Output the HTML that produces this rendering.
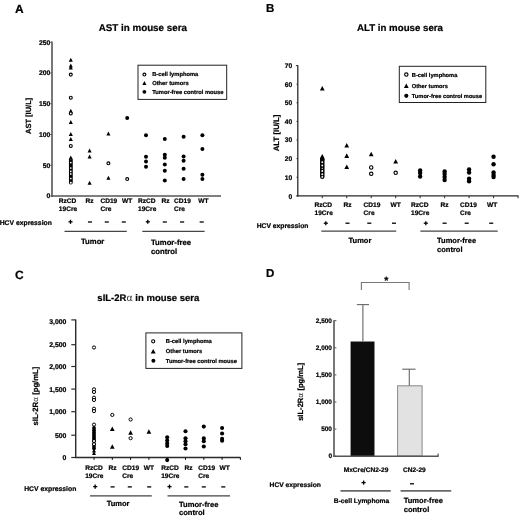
<!DOCTYPE html>
<html lang="en">
<head>
<meta charset="utf-8">
<title>AST, ALT and sIL-2R&alpha; in mouse sera</title>
<style>
html,body{margin:0;padding:0;background:#fff;}
svg{display:block;font-family:'Liberation Sans', sans-serif;fill:#000;}
text{stroke:#000;stroke-width:.22px;stroke-linejoin:round;}
</style>
</head>
<body>
<svg width="520" height="519" viewBox="0 0 520 519" text-rendering="geometricPrecision">
<defs><filter id="soft" x="0" y="0" width="520" height="519" filterUnits="userSpaceOnUse"><feGaussianBlur stdDeviation="0.38"/></filter></defs>
<rect x="0" y="0" width="520" height="519" fill="#fff"/>
<g filter="url(#soft)">
<text x="15.00" y="13.30" font-size="12" font-weight="bold" text-anchor="start">A</text>
<text x="142.80" y="30.90" font-size="9.8" font-weight="bold" text-anchor="middle">AST in mouse sera</text>
<line x1="52.00" y1="41.50" x2="52.00" y2="196.80" stroke="#555" stroke-width="1.6"/>
<line x1="51.20" y1="196.00" x2="221.00" y2="196.00" stroke="#555" stroke-width="1.5"/>
<line x1="50.20" y1="196.00" x2="52.00" y2="196.00" stroke="#555" stroke-width="1"/>
<text x="50.40" y="198.43" font-size="6.8" font-weight="bold" text-anchor="end">0</text>
<line x1="50.20" y1="165.25" x2="52.00" y2="165.25" stroke="#555" stroke-width="1"/>
<text x="50.40" y="167.68" font-size="6.8" font-weight="bold" text-anchor="end">50</text>
<line x1="50.20" y1="134.50" x2="52.00" y2="134.50" stroke="#555" stroke-width="1"/>
<text x="50.40" y="136.93" font-size="6.8" font-weight="bold" text-anchor="end">100</text>
<line x1="50.20" y1="103.75" x2="52.00" y2="103.75" stroke="#555" stroke-width="1"/>
<text x="50.40" y="106.18" font-size="6.8" font-weight="bold" text-anchor="end">150</text>
<line x1="50.20" y1="73.00" x2="52.00" y2="73.00" stroke="#555" stroke-width="1"/>
<text x="50.40" y="75.43" font-size="6.8" font-weight="bold" text-anchor="end">200</text>
<line x1="50.20" y1="42.25" x2="52.00" y2="42.25" stroke="#555" stroke-width="1"/>
<text x="50.40" y="44.68" font-size="6.8" font-weight="bold" text-anchor="end">250</text>
<text transform="translate(31.20,115.90) rotate(-90)" font-size="7.5" font-weight="bold" text-anchor="middle">AST [IU/L]</text>
<polygon points="70.80,57.70 72.85,61.70 68.75,61.70" fill="#000"/>
<polygon points="70.80,63.60 72.85,67.60 68.75,67.60" fill="#000"/>
<polygon points="70.80,65.40 72.85,69.40 68.75,69.40" fill="#000"/>
<polygon points="70.80,108.80 72.85,112.80 68.75,112.80" fill="#000"/>
<polygon points="70.80,119.90 72.85,123.90 68.75,123.90" fill="#000"/>
<polygon points="70.80,132.00 72.85,136.00 68.75,136.00" fill="#000"/>
<polygon points="70.80,137.10 72.85,141.10 68.75,141.10" fill="#000"/>
<circle cx="70.80" cy="74.60" r="1.45" fill="#fff" stroke="#000" stroke-width="1.15"/>
<circle cx="70.80" cy="97.70" r="1.45" fill="#fff" stroke="#000" stroke-width="1.15"/>
<circle cx="70.80" cy="113.40" r="1.45" fill="#fff" stroke="#000" stroke-width="1.15"/>
<circle cx="70.80" cy="145.90" r="1.45" fill="#fff" stroke="#000" stroke-width="1.15"/>
<polygon points="70.80,155.60 72.85,159.60 68.75,159.60" fill="#000"/>
<circle cx="70.80" cy="160.00" r="1.35" fill="none" stroke="#000" stroke-width="1.2"/>
<circle cx="70.80" cy="161.50" r="1.35" fill="none" stroke="#000" stroke-width="1.2"/>
<circle cx="70.80" cy="163.00" r="1.35" fill="none" stroke="#000" stroke-width="1.2"/>
<circle cx="70.80" cy="164.50" r="1.35" fill="none" stroke="#000" stroke-width="1.2"/>
<circle cx="70.80" cy="166.00" r="1.35" fill="none" stroke="#000" stroke-width="1.2"/>
<circle cx="70.80" cy="167.50" r="1.35" fill="none" stroke="#000" stroke-width="1.2"/>
<circle cx="70.80" cy="169.00" r="1.35" fill="none" stroke="#000" stroke-width="1.2"/>
<circle cx="70.80" cy="170.50" r="1.35" fill="none" stroke="#000" stroke-width="1.2"/>
<circle cx="70.80" cy="172.00" r="1.35" fill="none" stroke="#000" stroke-width="1.2"/>
<circle cx="70.80" cy="173.50" r="1.35" fill="none" stroke="#000" stroke-width="1.2"/>
<circle cx="70.80" cy="175.00" r="1.35" fill="none" stroke="#000" stroke-width="1.2"/>
<circle cx="70.80" cy="176.50" r="1.35" fill="none" stroke="#000" stroke-width="1.2"/>
<circle cx="70.80" cy="178.00" r="1.35" fill="none" stroke="#000" stroke-width="1.2"/>
<circle cx="70.80" cy="179.50" r="1.35" fill="none" stroke="#000" stroke-width="1.2"/>
<circle cx="70.80" cy="181.00" r="1.35" fill="none" stroke="#000" stroke-width="1.2"/>
<circle cx="70.80" cy="182.50" r="1.35" fill="none" stroke="#000" stroke-width="1.2"/>
<circle cx="70.80" cy="162.60" r="0.85" fill="#fff"/>
<circle cx="70.80" cy="168.00" r="0.85" fill="#fff"/>
<circle cx="70.80" cy="171.30" r="0.85" fill="#fff"/>
<circle cx="70.80" cy="173.90" r="0.85" fill="#fff"/>
<circle cx="70.80" cy="178.50" r="0.85" fill="#fff"/>
<circle cx="70.80" cy="182.70" r="1.0" fill="#fff"/>
<polygon points="89.60,148.50 91.65,152.50 87.55,152.50" fill="#000"/>
<polygon points="89.60,154.60 91.65,158.60 87.55,158.60" fill="#000"/>
<polygon points="89.60,180.70 91.65,184.70 87.55,184.70" fill="#000"/>
<polygon points="108.40,131.60 110.45,135.60 106.35,135.60" fill="#000"/>
<circle cx="108.40" cy="163.30" r="1.45" fill="#fff" stroke="#000" stroke-width="1.15"/>
<polygon points="108.40,175.80 110.45,179.80 106.35,179.80" fill="#000"/>
<circle cx="127.20" cy="118.00" r="2.0" fill="#000"/>
<circle cx="127.20" cy="179.00" r="1.45" fill="#fff" stroke="#000" stroke-width="1.15"/>
<circle cx="146.00" cy="135.25" r="2.0" fill="#000"/>
<circle cx="146.00" cy="156.75" r="2.0" fill="#000"/>
<circle cx="146.00" cy="161.50" r="2.0" fill="#000"/>
<circle cx="146.00" cy="166.75" r="2.0" fill="#000"/>
<circle cx="164.80" cy="139.00" r="2.0" fill="#000"/>
<circle cx="164.80" cy="154.75" r="2.0" fill="#000"/>
<circle cx="164.80" cy="157.75" r="2.0" fill="#000"/>
<circle cx="164.80" cy="164.50" r="2.0" fill="#000"/>
<circle cx="164.80" cy="170.75" r="2.0" fill="#000"/>
<circle cx="164.80" cy="180.50" r="2.0" fill="#000"/>
<circle cx="183.60" cy="136.75" r="2.0" fill="#000"/>
<circle cx="183.60" cy="156.50" r="2.0" fill="#000"/>
<circle cx="183.60" cy="160.75" r="2.0" fill="#000"/>
<circle cx="183.60" cy="168.75" r="2.0" fill="#000"/>
<circle cx="183.60" cy="179.00" r="2.0" fill="#000"/>
<circle cx="202.40" cy="135.25" r="2.0" fill="#000"/>
<circle cx="202.40" cy="149.00" r="2.0" fill="#000"/>
<circle cx="202.40" cy="174.75" r="2.0" fill="#000"/>
<circle cx="202.40" cy="179.00" r="2.0" fill="#000"/>
<rect x="138.0" y="65.2" width="88.7" height="34.2" fill="#fff" stroke="#222" stroke-width="1"/>
<circle cx="144.40" cy="74.50" r="1.45" fill="#fff" stroke="#000" stroke-width="1.15"/>
<polygon points="144.40,81.10 146.45,85.10 142.35,85.10" fill="#000"/>
<circle cx="144.40" cy="91.80" r="1.9" fill="#000"/>
<text x="152.20" y="75.97" font-size="5.78" font-weight="bold" text-anchor="start">B-cell lymphoma</text>
<text x="152.20" y="85.47" font-size="5.78" font-weight="bold" text-anchor="start">Other tumors</text>
<text x="152.20" y="93.77" font-size="5.78" font-weight="bold" text-anchor="start">Tumor-free control mouse</text>
<text x="58.80" y="203.16" font-size="6.6" font-weight="bold" text-anchor="start">RzCD</text>
<text x="58.80" y="211.16" font-size="6.6" font-weight="bold" text-anchor="start">19Cre</text>
<text x="85.40" y="203.16" font-size="6.6" font-weight="bold" text-anchor="start">Rz</text>
<text x="100.40" y="203.16" font-size="6.6" font-weight="bold" text-anchor="start">CD19</text>
<text x="100.40" y="211.16" font-size="6.6" font-weight="bold" text-anchor="start">Cre</text>
<text x="122.00" y="203.16" font-size="6.6" font-weight="bold" text-anchor="start">WT</text>
<text x="138.00" y="203.16" font-size="6.6" font-weight="bold" text-anchor="start">RzCD</text>
<text x="138.00" y="211.16" font-size="6.6" font-weight="bold" text-anchor="start">19Cre</text>
<text x="161.60" y="203.16" font-size="6.6" font-weight="bold" text-anchor="start">Rz</text>
<text x="174.00" y="203.16" font-size="6.6" font-weight="bold" text-anchor="start">CD19</text>
<text x="174.00" y="211.16" font-size="6.6" font-weight="bold" text-anchor="start">Cre</text>
<text x="198.20" y="203.16" font-size="6.6" font-weight="bold" text-anchor="start">WT</text>
<text x="-0.30" y="225.13" font-size="6.8" font-weight="bold" text-anchor="start">HCV expression</text>
<line x1="68.45" y1="221.80" x2="72.55" y2="221.80" stroke="#000" stroke-width="1.3"/>
<line x1="70.50" y1="219.75" x2="70.50" y2="223.85" stroke="#000" stroke-width="1.3"/>
<line x1="87.95" y1="222.00" x2="92.05" y2="222.00" stroke="#000" stroke-width="1.3"/>
<line x1="104.75" y1="222.00" x2="108.85" y2="222.00" stroke="#000" stroke-width="1.3"/>
<line x1="121.75" y1="222.00" x2="125.85" y2="222.00" stroke="#000" stroke-width="1.3"/>
<line x1="145.75" y1="221.80" x2="149.85" y2="221.80" stroke="#000" stroke-width="1.3"/>
<line x1="147.80" y1="219.75" x2="147.80" y2="223.85" stroke="#000" stroke-width="1.3"/>
<line x1="162.75" y1="222.00" x2="166.85" y2="222.00" stroke="#000" stroke-width="1.3"/>
<line x1="180.05" y1="222.00" x2="184.15" y2="222.00" stroke="#000" stroke-width="1.3"/>
<line x1="199.65" y1="222.00" x2="203.75" y2="222.00" stroke="#000" stroke-width="1.3"/>
<line x1="64.50" y1="231.30" x2="126.80" y2="231.30" stroke="#444" stroke-width="1.2"/>
<line x1="142.30" y1="231.30" x2="204.60" y2="231.30" stroke="#444" stroke-width="1.2"/>
<text x="81.00" y="244.16" font-size="7.7" font-weight="bold" text-anchor="start">Tumor</text>
<text x="151.00" y="244.66" font-size="7.7" font-weight="bold" text-anchor="start">Tumor-free</text>
<text x="151.00" y="253.86" font-size="7.7" font-weight="bold" text-anchor="start">control</text>
<text x="265.90" y="12.10" font-size="11.5" font-weight="bold" text-anchor="start">B</text>
<text x="400.00" y="30.80" font-size="9.7" font-weight="bold" text-anchor="middle">ALT in mouse sera</text>
<line x1="297.80" y1="65.20" x2="297.80" y2="196.50" stroke="#2a2a2a" stroke-width="1.3"/>
<line x1="297.20" y1="195.90" x2="518.50" y2="195.90" stroke="#2a2a2a" stroke-width="1.3"/>
<line x1="295.90" y1="195.90" x2="297.80" y2="195.90" stroke="#2a2a2a" stroke-width="1"/>
<text x="292.20" y="198.80" font-size="6.7" font-weight="bold" text-anchor="end">0</text>
<line x1="296.50" y1="177.28" x2="297.80" y2="177.28" stroke="#2a2a2a" stroke-width="1"/>
<text x="292.20" y="179.68" font-size="6.7" font-weight="bold" text-anchor="end">10</text>
<line x1="296.50" y1="158.66" x2="297.80" y2="158.66" stroke="#2a2a2a" stroke-width="1"/>
<text x="292.20" y="161.06" font-size="6.7" font-weight="bold" text-anchor="end">20</text>
<line x1="296.50" y1="140.04" x2="297.80" y2="140.04" stroke="#2a2a2a" stroke-width="1"/>
<text x="292.20" y="142.44" font-size="6.7" font-weight="bold" text-anchor="end">30</text>
<line x1="296.50" y1="121.42" x2="297.80" y2="121.42" stroke="#2a2a2a" stroke-width="1"/>
<text x="292.20" y="123.82" font-size="6.7" font-weight="bold" text-anchor="end">40</text>
<line x1="296.50" y1="102.80" x2="297.80" y2="102.80" stroke="#2a2a2a" stroke-width="1"/>
<text x="292.20" y="105.20" font-size="6.7" font-weight="bold" text-anchor="end">50</text>
<line x1="296.50" y1="84.18" x2="297.80" y2="84.18" stroke="#2a2a2a" stroke-width="1"/>
<text x="292.20" y="86.58" font-size="6.7" font-weight="bold" text-anchor="end">60</text>
<line x1="295.90" y1="65.56" x2="297.80" y2="65.56" stroke="#2a2a2a" stroke-width="1"/>
<text x="292.20" y="67.96" font-size="6.7" font-weight="bold" text-anchor="end">70</text>
<line x1="322.27" y1="195.90" x2="322.27" y2="198.20" stroke="#2a2a2a" stroke-width="1"/>
<line x1="346.74" y1="195.90" x2="346.74" y2="198.20" stroke="#2a2a2a" stroke-width="1"/>
<line x1="371.21" y1="195.90" x2="371.21" y2="198.20" stroke="#2a2a2a" stroke-width="1"/>
<line x1="395.68" y1="195.90" x2="395.68" y2="198.20" stroke="#2a2a2a" stroke-width="1"/>
<line x1="420.15" y1="195.90" x2="420.15" y2="198.20" stroke="#2a2a2a" stroke-width="1"/>
<line x1="444.62" y1="195.90" x2="444.62" y2="198.20" stroke="#2a2a2a" stroke-width="1"/>
<line x1="469.09" y1="195.90" x2="469.09" y2="198.20" stroke="#2a2a2a" stroke-width="1"/>
<line x1="493.56" y1="195.90" x2="493.56" y2="198.20" stroke="#2a2a2a" stroke-width="1"/>
<line x1="518.03" y1="195.90" x2="518.03" y2="198.20" stroke="#2a2a2a" stroke-width="1"/>
<text transform="translate(278.70,133.00) rotate(-90)" font-size="7.8" font-weight="bold" text-anchor="middle">ALT [IU/L]</text>
<polygon points="322.27,85.90 324.67,90.50 319.87,90.50" fill="#000"/>
<polygon points="322.27,153.90 324.67,158.50 319.87,158.50" fill="#000"/>
<polygon points="322.27,155.30 324.67,159.90 319.87,159.90" fill="#000"/>
<circle cx="322.27" cy="159.40" r="1.6" fill="none" stroke="#000" stroke-width="1.35"/>
<circle cx="322.27" cy="160.84" r="1.6" fill="none" stroke="#000" stroke-width="1.35"/>
<circle cx="322.27" cy="162.28" r="1.6" fill="none" stroke="#000" stroke-width="1.35"/>
<circle cx="322.27" cy="163.72" r="1.6" fill="none" stroke="#000" stroke-width="1.35"/>
<circle cx="322.27" cy="165.16" r="1.6" fill="none" stroke="#000" stroke-width="1.35"/>
<circle cx="322.27" cy="166.60" r="1.6" fill="none" stroke="#000" stroke-width="1.35"/>
<circle cx="322.27" cy="168.04" r="1.6" fill="none" stroke="#000" stroke-width="1.35"/>
<circle cx="322.27" cy="169.48" r="1.6" fill="none" stroke="#000" stroke-width="1.35"/>
<circle cx="322.27" cy="170.92" r="1.6" fill="none" stroke="#000" stroke-width="1.35"/>
<circle cx="322.27" cy="172.36" r="1.6" fill="none" stroke="#000" stroke-width="1.35"/>
<circle cx="322.27" cy="173.80" r="1.6" fill="none" stroke="#000" stroke-width="1.35"/>
<circle cx="322.27" cy="175.24" r="1.6" fill="none" stroke="#000" stroke-width="1.35"/>
<circle cx="322.27" cy="176.68" r="1.6" fill="none" stroke="#000" stroke-width="1.35"/>
<circle cx="322.27" cy="162.20" r="0.9" fill="#fff"/>
<circle cx="322.27" cy="165.50" r="0.9" fill="#fff"/>
<circle cx="322.27" cy="168.30" r="0.6" fill="#fff"/>
<circle cx="322.27" cy="171.00" r="0.95" fill="#fff"/>
<circle cx="322.27" cy="174.30" r="0.95" fill="#fff"/>
<circle cx="322.27" cy="176.80" r="0.9" fill="#fff"/>
<polygon points="346.74,142.90 349.14,147.50 344.34,147.50" fill="#000"/>
<polygon points="346.74,153.30 349.14,157.90 344.34,157.90" fill="#000"/>
<polygon points="346.74,164.50 349.14,169.10 344.34,169.10" fill="#000"/>
<polygon points="371.21,151.70 373.61,156.30 368.81,156.30" fill="#000"/>
<circle cx="371.21" cy="167.50" r="1.7" fill="#fff" stroke="#000" stroke-width="1.1"/>
<circle cx="371.21" cy="173.80" r="1.7" fill="#fff" stroke="#000" stroke-width="1.1"/>
<polygon points="395.68,158.90 398.08,163.50 393.28,163.50" fill="#000"/>
<circle cx="395.68" cy="172.80" r="1.7" fill="#fff" stroke="#000" stroke-width="1.1"/>
<circle cx="420.15" cy="170.50" r="2.2" fill="#000"/>
<circle cx="420.15" cy="173.00" r="2.2" fill="#000"/>
<circle cx="420.15" cy="176.50" r="2.2" fill="#000"/>
<circle cx="444.62" cy="171.50" r="2.2" fill="#000"/>
<circle cx="444.62" cy="174.00" r="2.2" fill="#000"/>
<circle cx="444.62" cy="177.00" r="2.2" fill="#000"/>
<circle cx="444.62" cy="180.00" r="2.2" fill="#000"/>
<circle cx="469.09" cy="169.50" r="2.2" fill="#000"/>
<circle cx="469.09" cy="172.50" r="2.2" fill="#000"/>
<circle cx="469.09" cy="178.75" r="2.2" fill="#000"/>
<circle cx="469.09" cy="181.25" r="2.2" fill="#000"/>
<circle cx="493.56" cy="156.75" r="2.2" fill="#000"/>
<circle cx="493.56" cy="164.25" r="2.2" fill="#000"/>
<circle cx="493.56" cy="172.50" r="2.2" fill="#000"/>
<circle cx="493.56" cy="175.00" r="2.2" fill="#000"/>
<circle cx="493.56" cy="177.00" r="2.2" fill="#000"/>
<rect x="399.3" y="66.3" width="86.5" height="36.2" fill="#fff" stroke="#222" stroke-width="1"/>
<circle cx="406.30" cy="74.60" r="1.7" fill="#fff" stroke="#000" stroke-width="1.1"/>
<polygon points="406.30,83.60 408.70,88.00 403.90,88.00" fill="#000"/>
<circle cx="406.30" cy="95.80" r="2.1" fill="#000"/>
<text x="411.80" y="76.64" font-size="5.7" font-weight="bold" text-anchor="start">B-cell lymphoma</text>
<text x="411.80" y="87.84" font-size="5.7" font-weight="bold" text-anchor="start">Other tumors</text>
<text x="411.80" y="97.84" font-size="5.7" font-weight="bold" text-anchor="start">Tumor-free control mouse</text>
<text x="314.50" y="207.36" font-size="6.6" font-weight="bold" text-anchor="start">RzCD</text>
<text x="314.50" y="215.16" font-size="6.6" font-weight="bold" text-anchor="start">19Cre</text>
<text x="343.60" y="207.36" font-size="6.6" font-weight="bold" text-anchor="start">Rz</text>
<text x="363.60" y="207.36" font-size="6.6" font-weight="bold" text-anchor="start">CD19</text>
<text x="363.60" y="215.16" font-size="6.6" font-weight="bold" text-anchor="start">Cre</text>
<text x="390.60" y="207.36" font-size="6.6" font-weight="bold" text-anchor="start">WT</text>
<text x="411.00" y="207.36" font-size="6.6" font-weight="bold" text-anchor="start">RzCD</text>
<text x="411.00" y="215.16" font-size="6.6" font-weight="bold" text-anchor="start">19Cre</text>
<text x="440.40" y="207.36" font-size="6.6" font-weight="bold" text-anchor="start">Rz</text>
<text x="460.00" y="207.36" font-size="6.6" font-weight="bold" text-anchor="start">CD19</text>
<text x="460.00" y="215.16" font-size="6.6" font-weight="bold" text-anchor="start">Cre</text>
<text x="487.00" y="207.36" font-size="6.6" font-weight="bold" text-anchor="start">WT</text>
<text x="256.70" y="227.62" font-size="6.75" font-weight="bold" text-anchor="start">HCV expression</text>
<line x1="323.75" y1="223.20" x2="327.85" y2="223.20" stroke="#000" stroke-width="1.3"/>
<line x1="325.80" y1="221.15" x2="325.80" y2="225.25" stroke="#000" stroke-width="1.3"/>
<line x1="345.45" y1="223.20" x2="349.55" y2="223.20" stroke="#000" stroke-width="1.3"/>
<line x1="367.25" y1="223.20" x2="371.35" y2="223.20" stroke="#000" stroke-width="1.3"/>
<line x1="391.95" y1="223.20" x2="396.05" y2="223.20" stroke="#000" stroke-width="1.3"/>
<line x1="423.75" y1="223.20" x2="427.85" y2="223.20" stroke="#000" stroke-width="1.3"/>
<line x1="425.80" y1="221.15" x2="425.80" y2="225.25" stroke="#000" stroke-width="1.3"/>
<line x1="442.55" y1="223.20" x2="446.65" y2="223.20" stroke="#000" stroke-width="1.3"/>
<line x1="464.65" y1="223.20" x2="468.75" y2="223.20" stroke="#000" stroke-width="1.3"/>
<line x1="489.15" y1="223.20" x2="493.25" y2="223.20" stroke="#000" stroke-width="1.3"/>
<line x1="321.30" y1="231.10" x2="396.20" y2="231.10" stroke="#444" stroke-width="1.3"/>
<line x1="420.40" y1="231.10" x2="497.70" y2="231.10" stroke="#444" stroke-width="1.3"/>
<text x="348.60" y="243.19" font-size="7.5" font-weight="bold" text-anchor="start">Tumor</text>
<text x="437.10" y="242.88" font-size="7.5" font-weight="bold" text-anchor="start">Tumor-free</text>
<text x="437.10" y="252.38" font-size="7.5" font-weight="bold" text-anchor="start">control</text>
<text x="15.00" y="279.40" font-size="12" font-weight="bold" text-anchor="start">C</text>
<text x="148.3" y="301.0" font-size="9.5" font-weight="bold" text-anchor="middle">sIL-2R<tspan font-weight="normal" font-family="'DejaVu Sans', sans-serif" font-size="9.6" style="stroke:none;fill:#333">α</tspan> in mouse sera</text>
<line x1="75.70" y1="319.40" x2="75.70" y2="458.10" stroke="#2a2a2a" stroke-width="1.4"/>
<line x1="75.10" y1="457.50" x2="240.60" y2="457.50" stroke="#2a2a2a" stroke-width="1.4"/>
<line x1="71.30" y1="457.50" x2="75.70" y2="457.50" stroke="#2a2a2a" stroke-width="1.2"/>
<text x="66.40" y="459.97" font-size="6.9" font-weight="bold" text-anchor="end">0</text>
<line x1="71.30" y1="435.20" x2="75.70" y2="435.20" stroke="#2a2a2a" stroke-width="1.2"/>
<text x="66.40" y="437.67" font-size="6.9" font-weight="bold" text-anchor="end">500</text>
<line x1="71.30" y1="411.70" x2="75.70" y2="411.70" stroke="#2a2a2a" stroke-width="1.2"/>
<text x="66.40" y="414.17" font-size="6.9" font-weight="bold" text-anchor="end">1,000</text>
<line x1="71.30" y1="389.10" x2="75.70" y2="389.10" stroke="#2a2a2a" stroke-width="1.2"/>
<text x="66.40" y="391.57" font-size="6.9" font-weight="bold" text-anchor="end">1,500</text>
<line x1="71.30" y1="366.50" x2="75.70" y2="366.50" stroke="#2a2a2a" stroke-width="1.2"/>
<text x="66.40" y="368.97" font-size="6.9" font-weight="bold" text-anchor="end">2,000</text>
<line x1="71.30" y1="344.70" x2="75.70" y2="344.70" stroke="#2a2a2a" stroke-width="1.2"/>
<text x="66.40" y="347.17" font-size="6.9" font-weight="bold" text-anchor="end">2,500</text>
<line x1="71.30" y1="319.90" x2="75.70" y2="319.90" stroke="#2a2a2a" stroke-width="1.2"/>
<text x="66.40" y="323.87" font-size="6.9" font-weight="bold" text-anchor="end">3,000</text>
<line x1="94.00" y1="457.50" x2="94.00" y2="459.90" stroke="#111" stroke-width="1"/>
<line x1="112.30" y1="457.50" x2="112.30" y2="459.90" stroke="#111" stroke-width="1"/>
<line x1="130.60" y1="457.50" x2="130.60" y2="459.90" stroke="#111" stroke-width="1"/>
<line x1="148.90" y1="457.50" x2="148.90" y2="459.90" stroke="#111" stroke-width="1"/>
<line x1="167.20" y1="457.50" x2="167.20" y2="459.90" stroke="#111" stroke-width="1"/>
<line x1="185.50" y1="457.50" x2="185.50" y2="459.90" stroke="#111" stroke-width="1"/>
<line x1="203.80" y1="457.50" x2="203.80" y2="459.90" stroke="#111" stroke-width="1"/>
<line x1="222.10" y1="457.50" x2="222.10" y2="459.90" stroke="#111" stroke-width="1"/>
<line x1="240.40" y1="457.50" x2="240.40" y2="459.90" stroke="#111" stroke-width="1"/>
<text transform="translate(37.5,396.1) rotate(-90)" font-size="7.7" font-weight="bold" text-anchor="middle">sIL-2R<tspan font-weight="normal" font-family="'DejaVu Sans', sans-serif" font-size="7.6" style="stroke:none;fill:#333">α</tspan> [pg/mL]</text>
<circle cx="94.00" cy="347.50" r="1.6" fill="#fff" stroke="#000" stroke-width="1.0"/>
<circle cx="94.00" cy="389.30" r="1.6" fill="#fff" stroke="#000" stroke-width="1.0"/>
<circle cx="94.00" cy="392.00" r="1.6" fill="#fff" stroke="#000" stroke-width="1.0"/>
<circle cx="94.00" cy="397.70" r="1.6" fill="#fff" stroke="#000" stroke-width="1.0"/>
<circle cx="94.00" cy="400.00" r="1.6" fill="#fff" stroke="#000" stroke-width="1.0"/>
<circle cx="94.00" cy="408.70" r="1.6" fill="#fff" stroke="#000" stroke-width="1.0"/>
<circle cx="94.00" cy="411.10" r="1.6" fill="#fff" stroke="#000" stroke-width="1.0"/>
<circle cx="94.00" cy="424.60" r="1.6" fill="#fff" stroke="#000" stroke-width="1.0"/>
<circle cx="94.00" cy="428.00" r="1.9" fill="#000"/>
<circle cx="94.00" cy="430.20" r="1.9" fill="#000"/>
<circle cx="94.00" cy="432.50" r="1.9" fill="#000"/>
<circle cx="94.00" cy="434.60" r="1.9" fill="#000"/>
<circle cx="94.00" cy="436.60" r="1.9" fill="#000"/>
<circle cx="94.00" cy="438.40" r="1.9" fill="#000"/>
<circle cx="94.00" cy="441.00" r="1.6" fill="#fff" stroke="#000" stroke-width="1.1"/>
<circle cx="94.00" cy="444.30" r="1.6" fill="#fff" stroke="#000" stroke-width="1.1"/>
<circle cx="94.00" cy="446.80" r="1.85" fill="#000"/>
<circle cx="94.00" cy="448.60" r="1.85" fill="#000"/>
<polygon points="94.00,448.60 96.00,452.40 92.00,452.40" fill="#000"/>
<polygon points="94.00,451.30 96.00,455.10 92.00,455.10" fill="#000"/>
<circle cx="112.30" cy="414.90" r="1.6" fill="#fff" stroke="#000" stroke-width="1.0"/>
<polygon points="112.30,426.45 114.65,430.95 109.95,430.95" fill="#000"/>
<polygon points="112.30,444.15 114.65,448.65 109.95,448.65" fill="#000"/>
<circle cx="130.60" cy="419.50" r="1.6" fill="#fff" stroke="#000" stroke-width="1.0"/>
<polygon points="130.60,430.35 132.95,434.85 128.25,434.85" fill="#000"/>
<circle cx="130.60" cy="438.20" r="1.6" fill="#fff" stroke="#000" stroke-width="1.0"/>
<polygon points="148.90,429.15 151.25,433.65 146.55,433.65" fill="#000"/>
<circle cx="167.20" cy="437.20" r="2.05" fill="#000"/>
<circle cx="167.20" cy="440.50" r="2.05" fill="#000"/>
<circle cx="167.20" cy="443.50" r="2.05" fill="#000"/>
<circle cx="167.20" cy="446.00" r="2.05" fill="#000"/>
<circle cx="167.20" cy="460.10" r="2.05" fill="#000"/>
<circle cx="185.50" cy="431.20" r="2.05" fill="#000"/>
<circle cx="185.50" cy="438.20" r="2.05" fill="#000"/>
<circle cx="185.50" cy="441.20" r="2.05" fill="#000"/>
<circle cx="185.50" cy="444.20" r="2.05" fill="#000"/>
<circle cx="185.50" cy="448.50" r="2.05" fill="#000"/>
<circle cx="203.80" cy="426.60" r="2.05" fill="#000"/>
<circle cx="203.80" cy="438.40" r="2.05" fill="#000"/>
<circle cx="203.80" cy="441.20" r="2.05" fill="#000"/>
<circle cx="203.80" cy="446.50" r="2.05" fill="#000"/>
<circle cx="222.10" cy="428.00" r="2.05" fill="#000"/>
<circle cx="222.10" cy="433.50" r="2.05" fill="#000"/>
<circle cx="222.10" cy="438.90" r="2.05" fill="#000"/>
<circle cx="222.10" cy="440.70" r="2.05" fill="#000"/>
<rect x="145.9" y="332.9" width="96.0" height="35.5" fill="#fff" stroke="#222" stroke-width="1"/>
<circle cx="153.20" cy="341.30" r="1.6" fill="#fff" stroke="#000" stroke-width="1.05"/>
<polygon points="153.20,349.00 155.70,353.60 150.70,353.60" fill="#000"/>
<circle cx="153.40" cy="360.80" r="2.0" fill="#000"/>
<text x="165.80" y="342.86" font-size="5.75" font-weight="bold" text-anchor="start">B-cell lymphoma</text>
<text x="165.80" y="353.06" font-size="5.75" font-weight="bold" text-anchor="start">Other tumors</text>
<text x="165.80" y="362.86" font-size="5.75" font-weight="bold" text-anchor="start">Tumor-free control mouse</text>
<text x="85.20" y="469.66" font-size="6.6" font-weight="bold" text-anchor="start">RzCD</text>
<text x="85.20" y="477.86" font-size="6.6" font-weight="bold" text-anchor="start">19Cre</text>
<text x="108.60" y="469.66" font-size="6.6" font-weight="bold" text-anchor="start">Rz</text>
<text x="122.20" y="469.66" font-size="6.6" font-weight="bold" text-anchor="start">CD19</text>
<text x="122.20" y="477.86" font-size="6.6" font-weight="bold" text-anchor="start">Cre</text>
<text x="143.70" y="469.66" font-size="6.6" font-weight="bold" text-anchor="start">WT</text>
<text x="161.20" y="469.66" font-size="6.6" font-weight="bold" text-anchor="start">RzCD</text>
<text x="161.20" y="477.86" font-size="6.6" font-weight="bold" text-anchor="start">19Cre</text>
<text x="184.60" y="469.66" font-size="6.6" font-weight="bold" text-anchor="start">Rz</text>
<text x="198.20" y="469.66" font-size="6.6" font-weight="bold" text-anchor="start">CD19</text>
<text x="198.20" y="477.86" font-size="6.6" font-weight="bold" text-anchor="start">Cre</text>
<text x="219.60" y="469.66" font-size="6.6" font-weight="bold" text-anchor="start">WT</text>
<text x="24.20" y="490.93" font-size="6.8" font-weight="bold" text-anchor="start">HCV expression</text>
<line x1="93.15" y1="486.60" x2="97.25" y2="486.60" stroke="#000" stroke-width="1.3"/>
<line x1="95.20" y1="484.55" x2="95.20" y2="488.65" stroke="#000" stroke-width="1.3"/>
<line x1="110.55" y1="486.90" x2="114.65" y2="486.90" stroke="#000" stroke-width="1.3"/>
<line x1="127.75" y1="486.90" x2="131.85" y2="486.90" stroke="#000" stroke-width="1.3"/>
<line x1="147.15" y1="486.90" x2="151.25" y2="486.90" stroke="#000" stroke-width="1.3"/>
<line x1="167.45" y1="486.60" x2="171.55" y2="486.60" stroke="#000" stroke-width="1.3"/>
<line x1="169.50" y1="484.55" x2="169.50" y2="488.65" stroke="#000" stroke-width="1.3"/>
<line x1="184.25" y1="486.90" x2="188.35" y2="486.90" stroke="#000" stroke-width="1.3"/>
<line x1="201.75" y1="486.90" x2="205.85" y2="486.90" stroke="#000" stroke-width="1.3"/>
<line x1="221.25" y1="486.90" x2="225.35" y2="486.90" stroke="#000" stroke-width="1.3"/>
<line x1="90.00" y1="495.80" x2="151.80" y2="495.80" stroke="#444" stroke-width="1.2"/>
<line x1="167.50" y1="495.80" x2="230.00" y2="495.80" stroke="#444" stroke-width="1.2"/>
<text x="106.70" y="506.29" font-size="7.5" font-weight="bold" text-anchor="start">Tumor</text>
<text x="179.00" y="506.72" font-size="7.6" font-weight="bold" text-anchor="start">Tumor-free</text>
<text x="179.00" y="515.32" font-size="7.6" font-weight="bold" text-anchor="start">control</text>
<text x="265.90" y="276.90" font-size="11.5" font-weight="bold" text-anchor="start">D</text>
<rect x="350.6" y="341.5" width="23.9" height="114.5" fill="#111"/>
<rect x="397.6" y="385.8" width="24.5" height="70.2" fill="#e2e2e2" stroke="#8a8a8a" stroke-width="1"/>
<line x1="362.90" y1="304.60" x2="362.90" y2="341.50" stroke="#666" stroke-width="1.1"/>
<line x1="356.80" y1="304.60" x2="369.00" y2="304.60" stroke="#666" stroke-width="1.1"/>
<line x1="409.30" y1="369.20" x2="409.30" y2="385.80" stroke="#666" stroke-width="1.1"/>
<line x1="402.20" y1="369.20" x2="415.60" y2="369.20" stroke="#666" stroke-width="1.1"/>
<polyline points="361.4,290.0 361.4,282.5 409.1,282.5 409.1,290.0" fill="none" stroke="#777" stroke-width="1.1"/>
<text x="386.30" y="284.00" font-size="10.5" font-weight="bold" text-anchor="middle">*</text>
<line x1="334.00" y1="320.20" x2="334.00" y2="457.00" stroke="#555" stroke-width="1.6"/>
<line x1="333.20" y1="456.20" x2="438.70" y2="456.20" stroke="#555" stroke-width="1.5"/>
<line x1="438.10" y1="456.20" x2="438.10" y2="453.60" stroke="#555" stroke-width="1.2"/>
<line x1="334.00" y1="456.20" x2="336.40" y2="456.20" stroke="#555" stroke-width="1"/>
<text x="332.00" y="458.03" font-size="6.5" font-weight="bold" text-anchor="end">0</text>
<line x1="334.00" y1="429.10" x2="336.40" y2="429.10" stroke="#555" stroke-width="1"/>
<text x="332.00" y="430.93" font-size="6.5" font-weight="bold" text-anchor="end">500</text>
<line x1="334.00" y1="402.00" x2="336.40" y2="402.00" stroke="#555" stroke-width="1"/>
<text x="332.00" y="403.83" font-size="6.5" font-weight="bold" text-anchor="end">1,000</text>
<line x1="334.00" y1="374.90" x2="336.40" y2="374.90" stroke="#555" stroke-width="1"/>
<text x="332.00" y="376.73" font-size="6.5" font-weight="bold" text-anchor="end">1,500</text>
<line x1="334.00" y1="347.80" x2="336.40" y2="347.80" stroke="#555" stroke-width="1"/>
<text x="332.00" y="349.63" font-size="6.5" font-weight="bold" text-anchor="end">2,000</text>
<line x1="334.00" y1="320.70" x2="336.40" y2="320.70" stroke="#555" stroke-width="1"/>
<text x="332.00" y="322.53" font-size="6.5" font-weight="bold" text-anchor="end">2,500</text>
<text transform="translate(303.0,391.8) rotate(-90)" font-size="7.6" font-weight="bold" text-anchor="middle">sIL-2R<tspan font-weight="normal" font-family="'DejaVu Sans', sans-serif" font-size="7.5" style="stroke:none;fill:#333">α</tspan> [pg/mL]</text>
<text x="343.70" y="472.36" font-size="6.6" font-weight="bold" text-anchor="start">MxCre/CN2-29</text>
<text x="403.00" y="472.36" font-size="6.6" font-weight="bold" text-anchor="start">CN2-29</text>
<text x="269.60" y="487.20" font-size="6.7" font-weight="bold" text-anchor="start">HCV expression</text>
<line x1="361.55" y1="482.60" x2="365.65" y2="482.60" stroke="#000" stroke-width="1.3"/>
<line x1="363.60" y1="480.55" x2="363.60" y2="484.65" stroke="#000" stroke-width="1.3"/>
<line x1="409.95" y1="483.80" x2="414.05" y2="483.80" stroke="#000" stroke-width="1.3"/>
<line x1="340.50" y1="490.80" x2="390.80" y2="490.80" stroke="#686868" stroke-width="1.7"/>
<line x1="400.60" y1="490.80" x2="451.20" y2="490.80" stroke="#686868" stroke-width="1.7"/>
<text x="333.80" y="502.80" font-size="6.7" font-weight="bold" text-anchor="start">B-cell Lymphoma</text>
<text x="403.70" y="503.10" font-size="7.55" font-weight="bold" text-anchor="start">Tumor-free</text>
<text x="403.70" y="511.90" font-size="7.55" font-weight="bold" text-anchor="start">control</text>
</g>
</svg>
</body>
</html>
